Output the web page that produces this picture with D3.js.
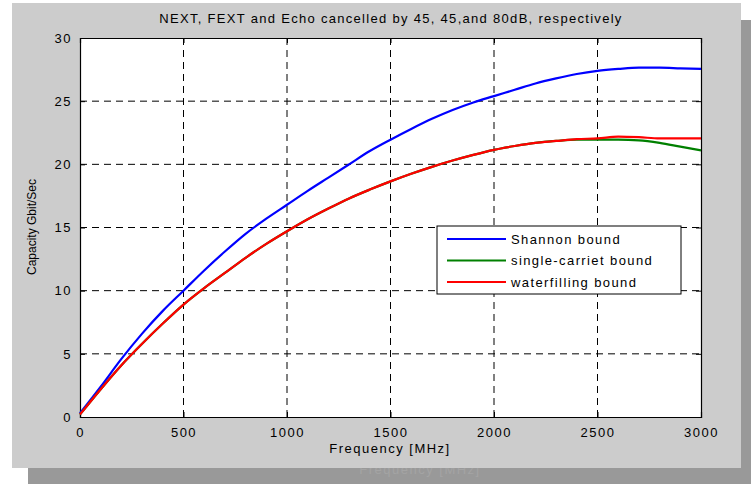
<!DOCTYPE html>
<html lang="en">
<head>
<meta charset="utf-8">
<title>Capacity vs Frequency</title>
<script src="https://d3js.org/d3.v7.min.js"></script>
<style>
  body { margin: 0; background: #fff; }
  svg text { font-family: "Liberation Sans", Arial, sans-serif; fill: #000; }
</style>
</head>
<body>
<div id="s"></div>
<script>
var width = 751;
var height = 484;

// data
var freq = [0, 100, 200, 300, 400, 500, 600, 700, 800, 900, 1000, 1100, 1200, 1300, 1400, 1500,
            1600, 1700, 1800, 1900, 2000, 2100, 2200, 2300, 2400, 2500, 2600, 2700, 2800, 2900, 3000];
var shannon = [0.3, 2.4, 4.6, 6.6, 8.4, 10.0, 11.6, 13.1, 14.5, 15.7, 16.8, 17.9, 18.95, 20.0, 21.05, 21.95,
               22.8, 23.6, 24.3, 24.9, 25.4, 25.9, 26.4, 26.8, 27.15, 27.4, 27.55, 27.65, 27.65, 27.6, 27.55];
var singleCarrier = [0.2, 2.2, 4.1, 5.8, 7.4, 8.9, 10.2, 11.4, 12.6, 13.7, 14.7, 15.65, 16.5, 17.3, 18.0, 18.65,
                     19.25, 19.8, 20.3, 20.75, 21.15, 21.45, 21.7, 21.85, 21.95, 21.95, 21.95, 21.9, 21.7, 21.4, 21.1];
var waterfilling = [0.2, 2.2, 4.1, 5.8, 7.4, 8.9, 10.2, 11.4, 12.6, 13.7, 14.7, 15.65, 16.5, 17.3, 18.0, 18.65,
                    19.25, 19.8, 20.3, 20.75, 21.15, 21.45, 21.7, 21.85, 22.0, 22.05, 22.2, 22.15, 22.05, 22.05, 22.05];
var seriesNames = ["Shannon bound", "single-carriet bound", "waterfilling bound"];
var seriesColors = ["#0000ff", "#008000", "#ff0000"];
var xTicks = [0, 500, 1000, 1500, 2000, 2500, 3000];
var yTicks = [0, 5, 10, 15, 20, 25, 30];

var pLeft = 80, pRight = 701, pTop = 38, pBottom = 417;

const svg = d3.select("#s").append("svg")
    .attr("width", width)
    .attr("height", height);

// figure window + shadow
svg.append("rect").attr("x", 28).attr("y", 20).attr("width", 723).attr("height", 464).attr("fill", "#999999");
svg.append("text").attr("x", 420).attr("y", 474).attr("text-anchor", "middle")
    .style("font-size", "13px").style("letter-spacing", "1.5px").style("fill", "#a4a4a4")
    .text("Frequency [MHz]");
svg.append("rect").attr("x", 12).attr("y", 3).attr("width", 729).attr("height", 465).attr("fill", "#cccccc");

var x = d3.scaleLinear().domain([0, 3000]).range([pLeft, pRight]);
var y = d3.scaleLinear().domain([0, 30]).range([pBottom, pTop]);

svg.append("rect").attr("x", pLeft).attr("y", pTop).attr("width", pRight - pLeft).attr("height", pBottom - pTop).attr("fill", "#fff");

// grid
svg.append("g").selectAll("line").data(xTicks.slice(1, -1)).join("line")
    .attr("x1", d => x(d)).attr("x2", d => x(d)).attr("y1", pTop).attr("y2", pBottom)
    .attr("stroke", "#000").attr("stroke-width", 1).attr("stroke-dasharray", "7,5");
svg.append("g").selectAll("line").data(yTicks.slice(1, -1)).join("line")
    .attr("y1", d => y(d)).attr("y2", d => y(d)).attr("x1", pLeft).attr("x2", pRight)
    .attr("stroke", "#000").attr("stroke-width", 1).attr("stroke-dasharray", "7,5");

// axes
var xAxis = d3.axisBottom(x).tickValues(xTicks).tickSize(-5).tickPadding(8).tickFormat(d3.format("d"));
var yAxis = d3.axisLeft(y).tickValues(yTicks).tickSize(-5).tickPadding(8);
var gx = svg.append("g").attr("transform", "translate(0," + pBottom + ")").call(xAxis);
var gy = svg.append("g").attr("transform", "translate(" + pLeft + ",0)").call(yAxis);
svg.append("g").attr("transform", "translate(0," + pTop + ")").call(d3.axisTop(x).tickValues(xTicks).tickSize(-5).tickFormat(""));
svg.append("g").attr("transform", "translate(" + pRight + ",0)").call(d3.axisRight(y).tickValues(yTicks).tickSize(-5).tickFormat(""));
svg.selectAll(".domain").attr("stroke", "#000").attr("stroke-width", 1.2);
svg.selectAll(".tick line").attr("stroke", "#000");
[gx, gy].forEach(function(g) {
    g.selectAll("text").style("font-family", "'Liberation Sans', Arial, sans-serif")
        .style("font-size", "13px").style("letter-spacing", "1.5px").attr("fill", "#000");
});
gx.selectAll("text").attr("dy", "0.9em");

// lines
var allSeries = [shannon, singleCarrier, waterfilling];
var line = d3.line().x((d, i) => x(freq[i])).y(d => y(d)).curve(d3.curveMonotoneX);
svg.append("g").selectAll("path").data(allSeries).join("path")
    .attr("d", line)
    .attr("fill", "none")
    .attr("stroke", (d, i) => seriesColors[i])
    .attr("stroke-width", 2.2);

// legend
var lg = svg.append("g");
lg.append("rect").attr("x", 437).attr("y", 226).attr("width", 244).attr("height", 68)
    .attr("fill", "#fff").attr("stroke", "#000").attr("stroke-width", 1);
var rows = lg.selectAll("g").data(seriesNames).join("g")
    .attr("transform", (d, i) => "translate(0," + (239 + i * 21.5) + ")");
rows.append("line").attr("x1", 447).attr("x2", 506).attr("y1", 0).attr("y2", 0)
    .attr("stroke", (d, i) => seriesColors[i]).attr("stroke-width", 2);
rows.append("text").attr("x", 511).attr("y", 0).attr("dy", "0.35em")
    .style("font-size", "13px").style("letter-spacing", "1.4px").text(d => d);

// labels
svg.append("text").attr("x", 391).attr("y", 23).attr("text-anchor", "middle")
    .style("font-size", "13px").style("letter-spacing", "1.3px")
    .text("NEXT, FEXT and Echo cancelled by 45, 45,and 80dB, respectively");
svg.append("text").attr("x", 390).attr("y", 453).attr("text-anchor", "middle")
    .style("font-size", "13px").style("letter-spacing", "1.5px")
    .text("Frequency [MHz]");
svg.append("text").attr("transform", "translate(36,227) rotate(-90)").attr("text-anchor", "middle")
    .style("font-size", "12px")
    .text("Capacity Gbit/Sec");
</script>
</body>
</html>
